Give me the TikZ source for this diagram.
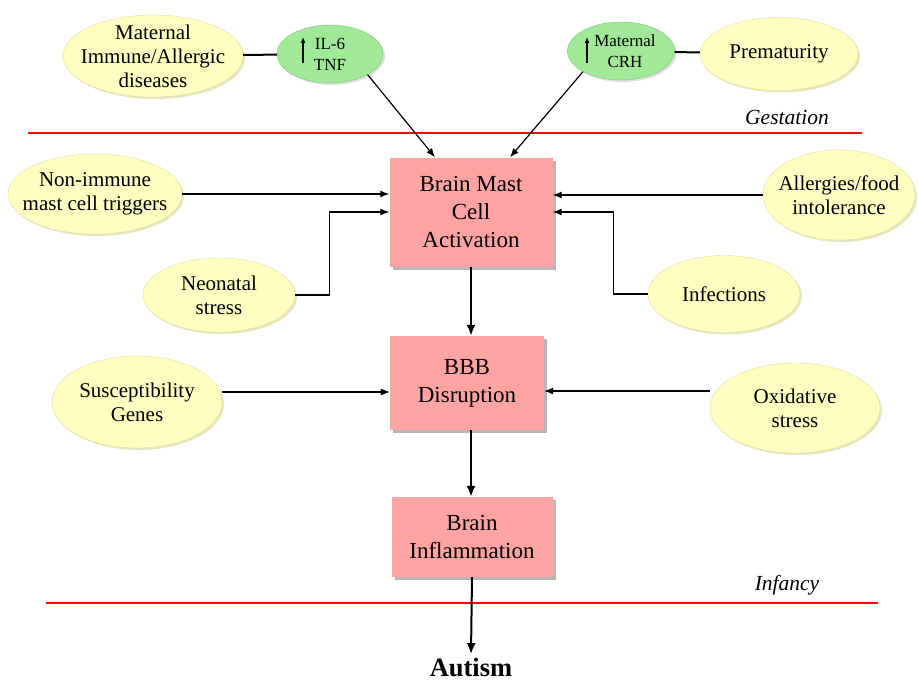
\documentclass[tikz,border=0pt]{standalone}
\usepackage{fontspec}
\setmainfont{Liberation Serif}
\usetikzlibrary{arrows.meta, shapes.geometric, shadows, positioning}
\definecolor{paleyellow}{rgb}{1, 1, 0.76}
\definecolor{yellowedge}{rgb}{0.88, 0.88, 0.62}
\definecolor{palegreen}{rgb}{0.63, 0.91, 0.6}
\definecolor{greenedge}{rgb}{0.5, 0.78, 0.48}
\definecolor{palepink}{rgb}{1, 0.64, 0.64}

\begin{document}
\begin{tikzpicture}[x=1pt, y=-1pt,
    factor/.style={ellipse, fill=paleyellow, draw=yellowedge, inner xsep=-22pt, inner ysep=-8pt, align=center,
      font=\fontsize{21}{24}\selectfont, drop shadow={shadow xshift=2pt, shadow yshift=-2pt, fill=olive!50, opacity=0.4}},
    marker/.style={ellipse, fill=palegreen, draw=greenedge, inner sep=-3pt, align=center,
      font=\fontsize{17}{21}\selectfont, drop shadow={shadow xshift=2pt, shadow yshift=-2pt, fill=gray!60, opacity=0.4}},
    stage/.style={rectangle, fill=palepink, inner sep=0pt, align=center, font=\fontsize{23}{28}\selectfont,
      drop shadow={shadow xshift=3pt, shadow yshift=-3pt, fill=gray!70, opacity=0.8}},
    phase/.style={font=\fontsize{21.5}{24}\selectfont\itshape},
    period/.style={red, line width=2.5pt},
    rise/.style={-{Latex[length=6pt, width=5pt]}, line width=1.5pt},
    link/.style={-{Latex[length=9pt, width=7pt]}, line width=1.2pt},
    cascade/.style={-{Latex[length=11pt, width=9pt]}, line width=2pt}]
		  % draws the background
		    \path[use as bounding box, fill=white] (0,0) rectangle (918,682);

		  % draws the gestation factors
		    \node[factor, minimum width=180pt, minimum height=82pt] (matimm) at (153,56) {Maternal\\Immune/Allergic\\diseases};
		    \node[marker, minimum width=106pt, minimum height=58pt] (il6) at (330,54) {IL-6\\TNF};
		    \node[marker, minimum width=107pt, minimum height=58pt] (crh) at (621,51) {\hspace*{8pt}Maternal\\\hspace*{8pt}CRH};
		    \node[factor, minimum width=158pt, minimum height=73pt] (prem) at (779,54) {Prematurity};
		    \draw[rise] ([xshift=-27pt, yshift=-9pt]il6.center) -- ([xshift=-27pt, yshift=17pt]il6.center);
		    \draw[rise] ([xshift=-34pt, yshift=-12pt]crh.center) -- ([xshift=-34pt, yshift=14pt]crh.center);
		    \node[phase] (gest) at (787,117) {Gestation};
		    \draw[period] (28,133) -- (862,133);

		  % draws the cascade
		    \node[stage, minimum width=163pt, minimum height=109pt] (bmc) at (471,212) {Brain Mast\\Cell\\Activation};
		    \node[stage, minimum width=154pt, minimum height=94pt] (bbb) at (467,383) {BBB\\Disruption};
		    \node[stage, minimum width=161pt, minimum height=80pt] (binf) at (472,537) {Brain\\Inflammation};
		    \node[font=\fontsize{26.5}{30}\selectfont\bfseries] (autism) at (471,667) {Autism};

		  % draws the triggers
		    \node[factor, minimum width=174pt, minimum height=80pt] (nonimm) at (95,194) {Non-immune\\mast cell triggers};
		    \node[factor, minimum width=152pt, minimum height=74pt] (neo) at (219,295) {Neonatal\\stress};
		    \node[factor, minimum width=152pt, minimum height=90pt] (allerg) at (839,195) {Allergies/food\\intolerance};
		    \node[factor, minimum width=152pt, minimum height=77pt] (inf) at (724,294) {Infections};
		    \node[factor, minimum width=170pt, minimum height=92pt] (sus) at (137,402) {Susceptibility\\Genes};
		    \node[factor, minimum width=170pt, minimum height=90pt] (oxi) at (795,408) {Oxidative\\stress};
		    \node[phase] (inft) at (787,585) {Infancy};
		    \draw[period] (46,603) -- (878,603);

		  % draws the connections
		    \draw[line width=2pt] (matimm) -- (il6);
		    \draw[line width=2pt] (crh) -- (prem);
		    \draw[link] (il6.south east) -- ([xshift=-36pt]bmc.north);
		    \draw[link] (crh.south west) -- ([xshift=39pt]bmc.north);
		    \draw[link] (nonimm.east) -- (nonimm.east -| bmc.west);
		    \draw[link] (neo.east) -- ++(34,0) |- (bmc.west);
		    \draw[link] (allerg.west) -- (allerg.west -| bmc.east);
		    \draw[link] (inf.west) -- ++(-34,0) |- (bmc.east);
		    \coordinate (bbbl) at ([yshift=-9pt]bbb.west);
		    \coordinate (bbbr) at ([yshift=-8pt]bbb.east);
		    \draw[link] (sus.east |- bbbl) -- (bbbl);
		    \draw[link] (oxi.west |- bbbr) -- (bbbr);
		    \draw[cascade] (bmc.south) -- (bmc.south |- bbb.north);
		    \draw[cascade] (bmc.south |- bbb.south) -- (bmc.south |- binf.north);
		    \draw[cascade] (binf.south) -- (autism.north);
\end{tikzpicture}
\end{document}
